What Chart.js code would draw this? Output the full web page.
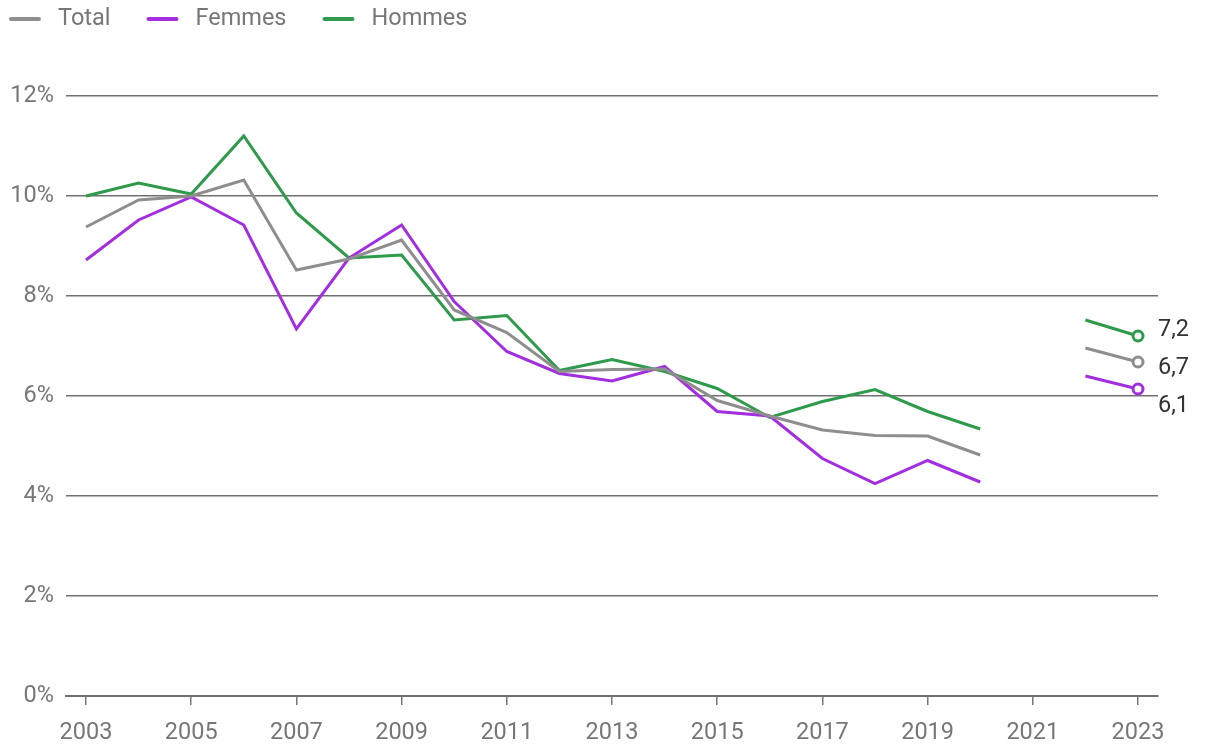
<!DOCTYPE html>
<html><head><meta charset="utf-8">
<script src="https://cdn.jsdelivr.net/npm/chart.js@4"></script>
<style>html,body{margin:0;padding:0;background:#fff}#wrap{width:1220px;height:756px}</style>
</head><body><div id="wrap"><canvas id="c" width="1220" height="756"></canvas></div>
<script>
const years = [2003,2004,2005,2006,2007,2008,2009,2010,2011,2012,2013,2014,2015,2016,2017,2018,2019,2020,2021,2022,2023];
const total  = [9.38,9.92,10.0,10.32,8.52,8.74,9.12,7.72,7.27,6.49,6.53,6.54,5.91,5.6,5.32,5.21,5.2,4.82,null,6.96,6.68];
const femmes = [8.72,9.52,9.98,9.42,7.34,8.76,9.42,7.89,6.89,6.45,6.3,6.59,5.69,5.6,4.75,4.25,4.71,4.28,null,6.4,6.14];
const hommes = [10.0,10.26,10.04,11.2,9.66,8.76,8.82,7.52,7.61,6.51,6.73,6.49,6.15,5.57,5.89,6.13,5.69,5.34,null,7.52,7.2];
const endLabels = ['6,7','6,1','7,2'];
const xTicks = [2003,2005,2007,2009,2011,2013,2015,2017,2019,2021,2023];
const yTicks = [0,2,4,6,8,10,12];
const names = ['Total','Femmes','Hommes'];
const colors = ['#8e8e8e','#a22ee0','#2f9a4b'];
const FONT = 'Roboto';
const FS = 23.5;

function pts(arr){return years.map((y,i)=>({x:y,y:arr[i]}));}
const series=[total,femmes,hommes];
const datasets = series.map((arr,k)=>({
  label:names[k], data:pts(arr), borderColor:colors[k], backgroundColor:'#fff',
  borderWidth:3, tension:0, spanGaps:false,
  pointRadius:years.map((y,i)=>i===years.length-1?5:0),
  pointBorderWidth:3, pointHoverRadius:0
}));

const endLabelPlugin={id:'endLabels',afterDatasetsDraw(chart){
  const ctx=chart.ctx; const last=years.length-1;
  const items=chart.data.datasets.map((d,k)=>{const m=chart.getDatasetMeta(k).data[last];return {x:m.x,y:m.y,t:endLabels[k]};});
  items.sort((a,b)=>a.y-b.y);
  const mean=items.reduce((s,a)=>s+a.y,0)/items.length+6;
  const gap=38;
  items.forEach((it,i)=>{it.ly=mean+(i-(items.length-1)/2)*gap;});
  ctx.save();ctx.fillStyle='#333';ctx.font=FS+'px '+FONT;ctx.textBaseline='middle';ctx.textAlign='left';
  items.forEach(it=>ctx.fillText(it.t,it.x+20,it.ly));
  ctx.restore();
}};
const customLegend={id:'customLegend',afterDraw(chart){
  const ctx=chart.ctx; ctx.save();
  ctx.font=FS+'px '+FONT; ctx.textBaseline='middle'; ctx.textAlign='left';
  let x=10; const y=19;
  chart.data.datasets.forEach(d=>{
    ctx.strokeStyle=d.borderColor; ctx.lineWidth=4; ctx.lineCap='round';
    ctx.beginPath(); ctx.moveTo(x+1,y); ctx.lineTo(x+29,y); ctx.stroke();
    ctx.fillStyle='#777'; ctx.fillText(d.label,x+48,y);
    x += 48 + ctx.measureText(d.label).width + 37;
  });
  ctx.restore();
}};

new Chart(document.getElementById('c'),{
  type:'line',
  data:{datasets},
  options:{
    responsive:false,animation:false,
    layout:{padding:{left:10,right:62,top:96,bottom:0}},
    plugins:{legend:{display:false},tooltip:{enabled:false}},
    scales:{
      x:{type:'linear',min:2002.62,max:2023.38,
        afterBuildTicks(s){s.ticks=xTicks.map(v=>({value:v}));},
        afterFit(s){s.height=60;},
        ticks:{color:'#777',font:{family:FONT,size:FS},padding:14,maxRotation:0,callback:v=>String(v)},
        grid:{drawOnChartArea:false,drawTicks:true,tickLength:9,color:'#777',lineWidth:1.5},
        border:{display:true,color:'#707070',width:2}
      },
      y:{min:0,max:12,
        afterBuildTicks(s){s.ticks=yTicks.map(v=>({value:v}));},
        afterFit(s){s.width=56;},
        ticks:{color:'#777',font:{family:FONT,size:FS},padding:12,callback:v=>v+'%'},
        grid:{color:'#707070',lineWidth:1.5,drawTicks:false},
        border:{display:false}
      }
    }
  },
  plugins:[endLabelPlugin,customLegend]
});
</script></body></html>
